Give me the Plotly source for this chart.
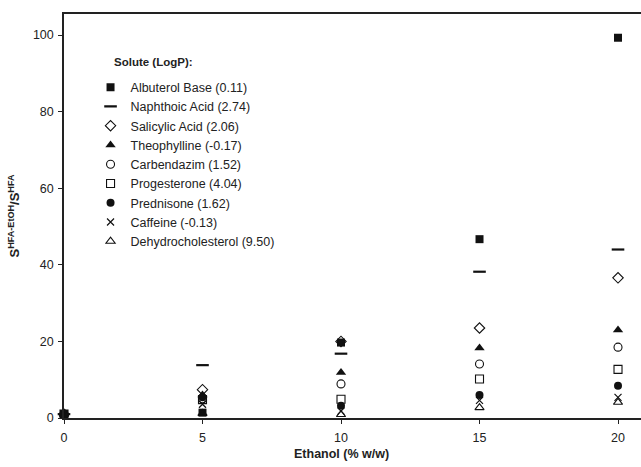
import plotly.graph_objects as go

ethanol = [0, 5, 10, 15, 20]

solutes = [
    "Albuterol Base (0.11)",
    "Naphthoic Acid (2.74)",
    "Salicylic Acid (2.06)",
    "Theophylline (-0.17)",
    "Carbendazim (1.52)",
    "Progesterone (4.04)",
    "Prednisone (1.62)",
    "Caffeine (-0.13)",
    "Dehydrocholesterol (9.50)",
]

albuterol = [1, 1.4, 19.7, 46.7, 99.3]
naphthoic = [1, 13.8, 16.8, 38.2, 44.0]
salicylic = [1, 7.4, 20.0, 23.5, 36.6]
theophylline = [1, 6.0, 11.9, 18.3, 23.0]
carbendazim = [1, 5.0, 8.9, 14.1, 18.5]
progesterone = [1, 4.8, 4.9, 10.2, 12.7]
prednisone = [1, 5.4, 3.2, 6.0, 8.4]
caffeine = [1, 3.6, 1.8, 4.6, 5.4]
dehydrocholesterol = [1, 1.2, 0.9, 2.7, 4.1]

series = [albuterol, naphthoic, salicylic, theophylline, carbendazim,
          progesterone, prednisone, caffeine, dehydrocholesterol]

styles = [
    dict(symbol="square", size=8, color="#111", line=dict(width=0)),
    dict(symbol="line-ew", size=9, color="#111", line=dict(width=2.2, color="#111")),
    dict(symbol="diamond-open", size=8, color="#111", line=dict(width=1.1, color="#111")),
    dict(symbol="triangle-up", size=9, color="#111", line=dict(width=0)),
    dict(symbol="circle-open", size=8, color="#111", line=dict(width=1.1, color="#111")),
    dict(symbol="square-open", size=8, color="#111", line=dict(width=1.1, color="#111")),
    dict(symbol="circle", size=8, color="#111", line=dict(width=0)),
    dict(symbol="x-thin", size=7, color="#111", line=dict(width=1.2, color="#111")),
    dict(symbol="triangle-up-open", size=8, color="#111", line=dict(width=1.1, color="#111")),
]

fig = go.Figure()
for name, vals, st in zip(solutes, series, styles):
    fig.add_trace(go.Scatter(
        x=ethanol, y=vals, mode="markers", name=name,
        marker=st, cliponaxis=False,
    ))

font = "Liberation Sans, Arial, sans-serif"

fig.update_layout(
    width=641, height=467,
    margin=dict(l=64, r=0, t=14, b=49),
    paper_bgcolor="white", plot_bgcolor="white",
    font=dict(family=font, size=12, color="#222"),
    showlegend=True,
    legend=dict(
        x=0.046, y=0.855, xanchor="left", yanchor="top",
        bgcolor="rgba(0,0,0,0)",
        font=dict(size=12.5, color="#222"),
        itemwidth=30, tracegroupgap=0,
    ),
    xaxis=dict(
        range=[0, 20.83], tickvals=[0, 5, 10, 15, 20],
        showline=True, linecolor="#222", linewidth=1.5, mirror=True,
        ticks="outside", ticklen=4, tickcolor="#222",
        showgrid=False, zeroline=False, ticklabelstandoff=3,
        tickfont=dict(size=12.5, color="#222"),
    ),
    yaxis=dict(
        range=[0, 105.5], tickvals=[0, 20, 40, 60, 80, 100],
        showline=True, linecolor="#222", linewidth=1.5,
        ticks="outside", ticklen=4, tickcolor="#222",
        showgrid=False, zeroline=False, ticklabelstandoff=2,
        tickfont=dict(size=12.5, color="#222"),
        title=dict(text="<b>S<sup>HFA-EtOH</sup>/S<sup>HFA</sup></b>",
                   font=dict(size=13, color="#222"), standoff=10),
    ),
    xaxis2=dict(
        overlaying="x", range=[0, 20.83], tickvals=[0, 5, 10, 15, 20],
        ticks="inside", ticklen=4, tickcolor="#222", showticklabels=False,
        showgrid=False, zeroline=False, showline=False,
    ),
    yaxis2=dict(
        overlaying="y", range=[0, 105.5], tickvals=[0, 20, 40, 60, 80, 100],
        ticks="inside", ticklen=4, tickcolor="#222", showticklabels=False,
        showgrid=False, zeroline=False, showline=False,
    ),
)

fig.add_annotation(
    text="<b>Solute (LogP):</b>", x=(115 - 64) / 577, xref="paper", xanchor="left",
    xshift=-3, y=(418 - 62) / 404, yref="paper", yanchor="middle",
    showarrow=False, font=dict(size=11.5, color="#222"),
)

fig.add_annotation(
    text="<b>Ethanol (% w/w)</b>", x=10, xref="x", y=0, yref="paper",
    yshift=-45, showarrow=False, font=dict(size=12.5, color="#222"),
)

fig.write_html("out.html")
